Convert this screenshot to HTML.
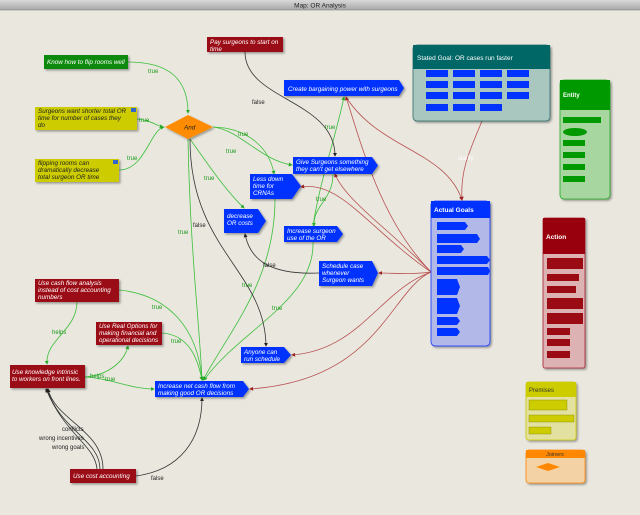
<!DOCTYPE html>
<html><head><meta charset="utf-8"><style>
body{margin:0;width:640px;height:515px;overflow:hidden;background:#e9e7de;font-family:"Liberation Sans",sans-serif}
svg{display:block}
.t{font-family:"Liberation Sans",sans-serif;font-style:italic;fill:#fff;font-size:6.3px}
.k{font-style:italic;fill:#222;font-size:6.3px;font-family:"Liberation Sans",sans-serif}
.g{fill:#1a9a1a;font-size:6px;font-family:"Liberation Sans",sans-serif}
.b{fill:#222;font-size:6px;font-family:"Liberation Sans",sans-serif}
.gl{fill:none;stroke:#3cbf3c;stroke-width:.8}
.bl{fill:none;stroke:#333;stroke-width:.8}
.rl{fill:none;stroke:#b85050;stroke-width:.8}
</style></head><body>
<svg width="640" height="515" viewBox="0 0 640 515">
<defs>
<linearGradient id="tb" x1="0" y1="0" x2="0" y2="1"><stop offset="0" stop-color="#d8d8d8"/><stop offset="1" stop-color="#a8a8a8"/></linearGradient>
<filter id="sh"><feDropShadow dx="1.5" dy="1.5" stdDeviation="1" flood-opacity=".35"/></filter>
<marker id="ag" markerWidth="5" markerHeight="5" refX="4" refY="2.5" orient="auto"><path d="M0,0L5,2.5L0,5z" fill="#2aa82a"/></marker>
<marker id="ab" markerWidth="5" markerHeight="5" refX="4" refY="2.5" orient="auto"><path d="M0,0L5,2.5L0,5z" fill="#222"/></marker>
<marker id="ar" markerWidth="5" markerHeight="5" refX="4" refY="2.5" orient="auto"><path d="M0,0L5,2.5L0,5z" fill="#a02020"/></marker>
</defs>
<rect x="0" y="0" width="640" height="10" fill="url(#tb)"/>
<line x1="0" y1="10" x2="640" y2="10" stroke="#777" stroke-width=".6"/>
<text x="320" y="7.5" text-anchor="middle" font-size="6.5" fill="#222">Map: OR Analysis</text>

<!-- green edges -->
<path class="gl" marker-end="url(#ag)" d="M128,62 C170,62 188,80 188,113"/>
<path class="gl" marker-end="url(#ag)" d="M137,119 C150,120 155,125 163,127"/>
<path class="gl" marker-end="url(#ag)" d="M119,170 C145,170 150,130 164,127"/>
<path class="gl" marker-end="url(#ag)" d="M213,127 C250,128 270,150 274,174"/>
<path class="gl" marker-end="url(#ag)" d="M213,127 C240,130 260,160 292,165"/>
<path class="gl" marker-end="url(#ag)" d="M190,139 C205,160 225,190 244,208"/>
<path class="gl" marker-end="url(#ag)" d="M188,139 C190,250 200,330 202,380"/>
<path class="gl" marker-end="url(#ag)" d="M275,199 C275,280 230,330 203,380"/>
<path class="gl" marker-end="url(#ag)" d="M313,242 C315,300 240,330 204,380"/>
<path class="gl" marker-end="url(#ag)" d="M119,290 C170,295 198,330 202,380"/>
<path class="gl" marker-end="url(#ag)" d="M162,333 C190,335 198,360 202,380"/>
<path class="gl" marker-end="url(#ag)" d="M85,377 C110,378 130,389 154,389"/>
<path class="gl" marker-end="url(#ag)" d="M85,377 C110,375 125,360 128,346"/>
<path class="gl" marker-end="url(#ag)" d="M77,302 C77,330 45,340 47,364"/>
<path class="gl" marker-end="url(#ag)" d="M333,174 C333,200 313,205 314,226"/>
<path class="gl" marker-end="url(#ag)" d="M313,226 C320,180 335,140 344,97"/>
<!-- black edges -->
<path class="bl" marker-end="url(#ab)" d="M245,52 C245,100 335,100 335,156"/>
<path class="bl" marker-end="url(#ab)" d="M190,139 C190,250 265,270 266,346"/>
<path class="bl" marker-end="url(#ab)" d="M319,273 C270,275 250,260 245,234"/>
<path class="bl" marker-end="url(#ab)" d="M136,476 C180,470 202,440 202,398"/>
<path class="bl" marker-end="url(#ab)" d="M103,469 C103,430 55,420 48,389"/>
<path class="bl" marker-end="url(#ab)" d="M100,469 C100,440 60,430 47,389"/>
<path class="bl" marker-end="url(#ab)" d="M97,469 C95,445 65,435 46,389"/>
<!-- red edges -->
<path class="rl" marker-end="url(#ar)" d="M346,97 C380,150 445,150 462,200"/>
<path class="rl" marker-end="url(#ar)" d="M482,121 C470,150 460,170 462,200"/>
<path class="rl" marker-end="url(#ar)" d="M431,272 C380,220 360,140 346,97"/>
<path class="rl" marker-end="url(#ar)" d="M431,272 C390,230 345,200 335,174"/>
<path class="rl" marker-end="url(#ar)" d="M431,272 C370,230 340,180 301,187"/>
<path class="rl" marker-end="url(#ar)" d="M431,272 C410,275 395,273 379,273"/>
<path class="rl" marker-end="url(#ar)" d="M431,272 C380,290 360,350 292,355"/>
<path class="rl" marker-end="url(#ar)" d="M431,272 C390,290 380,380 250,389"/>

<!-- edge labels -->
<text class="g" x="148" y="73">true</text>
<text class="g" x="139" y="122">true</text>
<text class="g" x="127" y="160">true</text>
<text class="g" x="238" y="136">true</text>
<text class="g" x="226" y="153">true</text>
<text class="g" x="204" y="180">true</text>
<text class="g" x="178" y="234">true</text>
<text class="b" x="193" y="227">false</text>
<text class="b" x="252" y="104">false</text>
<text class="g" x="325" y="129">true</text>
<text class="g" x="316" y="201">true</text>
<text class="b" x="263" y="267">false</text>
<text class="g" x="242" y="287">true</text>
<text class="g" x="272" y="310">true</text>
<text class="g" x="152" y="309">true</text>
<text class="g" x="171" y="343">true</text>
<text class="g" x="52" y="334">helps</text>
<text class="g" x="90" y="378">helps</text>
<text class="g" x="105" y="381">true</text>
<text class="b" x="62" y="431">conflicts</text>
<text class="b" x="39" y="440">wrong incentives</text>
<text class="b" x="52" y="449">wrong goals</text>
<text class="b" x="151" y="480">false</text>
<text x="458" y="160" font-size="6" fill="#fff">clarify</text>

<g filter="url(#sh)">
<rect x="207" y="37" width="76" height="15" fill="#9b0b14"/>
<rect x="35" y="279" width="84" height="23" fill="#9b0b14"/>
<rect x="96" y="322" width="66" height="23" fill="#9b0b14"/>
<rect x="10" y="365" width="75" height="23" fill="#9b0b14"/>
<rect x="70" y="469" width="66" height="14" fill="#9b0b14"/>
<rect x="44" y="55" width="84" height="14" fill="#0a8a0a"/>
<rect x="35" y="107" width="102" height="23" fill="#cccc00"/>
<rect x="35" y="159" width="84" height="23" fill="#cccc00"/>
<rect x="131" y="108" width="5" height="4" fill="#3366cc"/>
<rect x="113" y="160" width="5" height="4" fill="#3366cc"/>
<polygon points="165,127 188,115 213,127 188,139" fill="#ff8c00"/>
<polygon points="284,80 399,80 404,88 399,96 284,96" fill="#0033ff"/>
<polygon points="293,157 372,157 378,165.5 372,174 293,174" fill="#0033ff"/>
<polygon points="250,174 292,174 301,186 292,199 250,199" fill="#0033ff"/>
<polygon points="224,209 258,209 266,221 258,233 224,233" fill="#0033ff"/>
<polygon points="284,226 337,226 343,234 337,242 284,242" fill="#0033ff"/>
<polygon points="319,261 372,261 378,273 372,286 319,286" fill="#0033ff"/>
<polygon points="241,347 284,347 291,355 284,363 241,363" fill="#0033ff"/>
<polygon points="155,381 243,381 249,389 243,397 155,397" fill="#0033ff"/>
<rect x="413" y="45" width="137" height="76" rx="4" fill="#a9c6bf" stroke="#2e6e6a" stroke-width=".8"/>
<rect x="413" y="45" width="137" height="24" fill="#006666"/>
<rect x="560" y="80" width="50" height="119" rx="4" fill="#a8d6a0" stroke="#22aa22" stroke-width=".8"/>
<rect x="560" y="80" width="50" height="30" fill="#009900"/>
<rect x="431" y="201" width="59" height="145" rx="4" fill="#b2b8e8" stroke="#1133ff" stroke-width=".8"/>
<rect x="431" y="201" width="59" height="17" fill="#0033ff"/>
<rect x="543" y="218" width="42" height="150" rx="2" fill="#ddb2b2" stroke="#aa2233" stroke-width=".8"/>
<rect x="543" y="218" width="42" height="36" fill="#990011"/>
<rect x="526" y="382" width="50" height="58" rx="3" fill="#e3e1a0" stroke="#cccc00" stroke-width=".8"/>
<rect x="526" y="382" width="50" height="15" fill="#cccc00"/>
<rect x="526" y="450" width="59" height="33" rx="3" fill="#f3d2a6" stroke="#ff8800" stroke-width=".8"/>
<rect x="526" y="450" width="59" height="8" fill="#ff8800"/>
</g>

<g fill="#0033ff">
<rect x="426" y="70" width="22" height="7"/><rect x="453" y="70" width="22" height="7"/><rect x="480" y="70" width="22" height="7"/><rect x="507" y="70" width="22" height="7"/>
<rect x="426" y="81" width="22" height="7"/><rect x="453" y="81" width="22" height="7"/><rect x="480" y="81" width="22" height="7"/><rect x="507" y="81" width="22" height="7"/>
<rect x="426" y="92" width="22" height="7"/><rect x="453" y="92" width="22" height="7"/><rect x="480" y="92" width="22" height="7"/><rect x="507" y="92" width="22" height="7"/>
<rect x="426" y="104" width="22" height="7"/><rect x="453" y="104" width="22" height="7"/><rect x="480" y="104" width="22" height="7"/>
<polygon points="437,222 465,222 468,226 465,230 437,230"/>
<polygon points="437,234 477,234 480,239 477,243 437,243"/>
<polygon points="437,245 461,245 464,249 461,253 437,253"/>
<polygon points="437,256 487,256 490,260 487,264 437,264"/>
<polygon points="437,267 488,267 490,271 488,275 437,275"/>
<polygon points="437,279 457,279 460,287 457,295 437,295"/>
<polygon points="437,298 457,298 460,306 457,314 437,314"/>
<polygon points="437,317 457,317 460,321 457,325 437,325"/>
<polygon points="437,328 457,328 460,332 457,336 437,336"/>
</g>
<g fill="#009900"><rect x="563" y="117" width="38" height="6"/><ellipse cx="575" cy="132" rx="12" ry="4"/><rect x="563" y="140" width="22" height="6"/><rect x="563" y="152" width="22" height="6"/><rect x="563" y="164" width="22" height="6"/><rect x="563" y="176" width="22" height="6"/></g>
<g fill="#9b0b14"><rect x="547" y="258" width="36" height="11"/><rect x="547" y="274" width="32" height="7"/><rect x="547" y="286" width="29" height="7"/><rect x="547" y="298" width="36" height="11"/><rect x="547" y="313" width="36" height="11"/><rect x="547" y="328" width="23" height="7"/><rect x="547" y="339" width="23" height="7"/><rect x="547" y="351" width="23" height="7"/></g>
<g fill="#cccc00" stroke="#888800" stroke-width=".4"><rect x="529" y="400" width="38" height="10"/><rect x="529" y="415" width="45" height="7"/><rect x="529" y="427" width="22" height="7"/></g>
<polygon points="536,467 548,463 560,467 548,471" fill="#ff8800"/>

<text x="417" y="60" font-size="6.5" fill="#fff">Stated Goal: OR cases run faster</text>
<text x="563" y="97" font-size="6" fill="#fff" font-weight="bold">Entity</text>
<text x="434" y="212" font-size="6.5" fill="#fff" font-weight="bold">Actual Goals</text>
<text x="546" y="239" font-size="6.5" fill="#fff" font-weight="bold">Action</text>
<text x="529" y="392" font-size="6" fill="#333">Premises</text>
<text x="555" y="456" font-size="5.5" fill="#333" text-anchor="middle">Joiners</text>

<text class="t" x="210" y="44">Pay surgeons to start on</text><text class="t" x="210" y="51">time</text>
<text class="t" x="47" y="64">Know how to flip rooms well</text>
<text class="k" x="38" y="113">Surgeons want shorter total OR</text><text class="k" x="38" y="120">time for number of cases they</text><text class="k" x="38" y="127">do</text>
<text class="k" x="38" y="165">flipping rooms can</text><text class="k" x="38" y="172">dramatically decrease</text><text class="k" x="38" y="179">total surgeon OR time</text>
<text class="k" x="184" y="129.5">And</text>
<text class="t" x="288" y="91">Create bargaining power with surgeons</text>
<text class="t" x="296" y="164">Give Surgeons something</text><text class="t" x="296" y="171">they can't get elsewhere</text>
<text class="t" x="253" y="181">Less down</text><text class="t" x="253" y="188">time for</text><text class="t" x="253" y="195">CRNAs</text>
<text class="t" x="227" y="218">decrease</text><text class="t" x="227" y="225">OR costs</text>
<text class="t" x="287" y="233">Increase surgeon</text><text class="t" x="287" y="240">use of the OR</text>
<text class="t" x="322" y="268">Schedule case</text><text class="t" x="322" y="275">whenever</text><text class="t" x="322" y="282">Surgeon wants</text>
<text class="t" x="38" y="285">Use cash flow analysis</text><text class="t" x="38" y="292">instead of cost accounting</text><text class="t" x="38" y="299">numbers</text>
<text class="t" x="99" y="328">Use Real Options for</text><text class="t" x="99" y="335">making financial and</text><text class="t" x="99" y="342">operational decisions</text>
<text class="t" x="12" y="374">Use knowledge intrinsic</text><text class="t" x="12" y="381">to workers on front lines.</text>
<text class="t" x="244" y="354">Anyone can</text><text class="t" x="244" y="361">run schedule</text>
<text class="t" x="158" y="388">Increase net cash flow from</text><text class="t" x="158" y="395">making good OR decisions</text>
<text class="t" x="73" y="478">Use cost accounting</text>
</svg>
</body></html>
